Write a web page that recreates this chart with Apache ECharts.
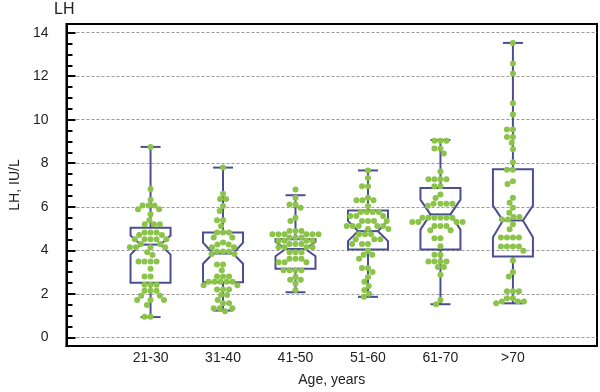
<!DOCTYPE html>
<html>
<head>
<meta charset="utf-8">
<script src="https://cdn.jsdelivr.net/npm/echarts@6/dist/echarts.min.js"></script>
<style>
html,body{margin:0;padding:0;background:#fff;}
#c{width:600px;height:392px;}
</style>
</head>
<body>
<div id="c"></div>
<script>
// ---- data ----
const categories = ['21-30', '31-40', '41-50', '51-60', '61-70', '>70'];
const yMajorTicks = [0, 2, 4, 6, 8, 10, 12, 14];
const yMinorTicks = [0.5,1,1.5,2.5,3,3.5,4.5,5,5.5,6.5,7,7.5,8.5,9,9.5,10.5,11,11.5,12.5,13,13.5];

// box statistics per group (whisker low, Q1, notch low, median, notch high, Q3, whisker high)
const whiskerLow  = [0.93, 1.23, 2.07, 1.86, 1.52, 1.56];
const q1          = [2.51, 2.53, 3.15, 4.03, 4.03, 3.71];
const notchLow    = [3.80, 3.38, 3.73, 4.42, 4.95, 4.60];
const median      = [4.26, 3.85, 4.06, 4.88, 5.65, 5.37];
const notchHigh   = [4.68, 4.35, 4.39, 5.35, 6.33, 6.05];
const q3          = [5.03, 4.82, 4.51, 5.83, 6.86, 7.72];
const whiskerHigh = [8.75, 7.80, 6.53, 7.67, 9.07, 13.53];

// individual observations per group
const lh21_30 = [8.75,6.82,6.32,6.06,6.06,6.06,5.88,5.88,5.65,5.38,5.2,5.2,5.2,4.82,4.82,4.82,4.7,4.7,
  4.51,4.51,4.51,4.51,4.51,4.29,4.29,4.14,4.14,4.14,4.14,3.91,3.78,3.48,3.48,3.48,3.48,3.15,2.8,2.8,
  2.42,2.42,2.42,2.14,2.14,2.14,1.91,1.91,1.71,1.71,1.71,1.49,0.94,0.94];
const lh31_40 = [7.8,6.6,6.36,6.36,6.03,5.8,5.38,5.38,5.12,4.82,4.82,4.82,4.59,4.59,4.36,4.26,4.26,
  4.14,4.14,3.94,3.94,3.94,3.83,3.83,3.35,3.35,3.08,2.8,2.8,2.8,2.55,2.55,2.55,2.55,2.55,2.39,2.39,
  2.2,2.2,2.2,1.94,1.94,1.71,1.56,1.56,1.33,1.33,1.33,1.2];
const lh41_50 = [6.79,6.41,6.1,6.1,5.95,5.5,5.35,4.89,4.89,4.89,4.74,4.74,4.74,4.74,4.74,4.74,
  4.59,4.59,4.59,4.44,4.44,4.44,4.44,4.29,4.29,4.29,4.14,4.14,4.14,4.14,3.91,3.91,3.91,3.61,3.61,3.61,
  3.45,3.45,3.45,3.08,3.08,3.08,3.08,2.77,2.64,2.64,2.47,2.17];
const lh51_60 = [7.67,7.32,6.94,6.94,6.41,6.3,6.3,6.3,6.03,5.76,5.76,5.76,5.76,5.57,5.57,5.57,
  5.35,5.35,5.35,5.35,5.12,5.12,5.12,5.12,5.12,4.98,4.98,4.74,4.74,4.74,4.51,4.51,4.51,4.29,4.29,4.29,
  3.98,3.79,3.79,3.61,3.18,3.18,3.0,2.77,2.55,2.36,2.17,2.0,1.86];
const lh61_70 = [9.03,9.03,9.03,8.68,8.68,8.45,7.62,7.27,7.27,7.27,7.27,6.94,6.94,6.56,6.4,
  6.14,6.14,6.14,6.14,6.05,5.5,5.5,5.5,5.5,5.5,5.5,5.3,5.3,5.3,5.3,5.12,5.12,5.12,4.92,4.92,
  4.55,4.55,4.18,3.79,3.79,3.48,3.48,3.48,3.48,3.23,3.23,2.88,1.71,1.52];
const lhOver70 = [13.53,12.59,12.12,10.76,10.24,9.55,9.55,9.21,9.21,8.94,8.64,8.05,7.7,7.7,7.17,7.05,
  6.41,6.18,5.95,5.73,5.53,5.53,5.42,5.42,5.2,4.97,4.59,4.59,4.59,4.59,4.17,4.17,4.17,4.17,3.98,
  3.53,3.0,2.8,2.12,2.12,2.12,1.79,1.79,1.64,1.64,1.64,1.56];
const groupValues = [lh21_30, lh31_40, lh41_50, lh51_60, lh61_70, lhOver70];

// ---- chart ----
const FONT = 'Liberation Sans, Arial, Helvetica, sans-serif';
const BOX_COLOR = '#4b4f8f';
const DOT_COLOR = '#8cc34b';

const boxData = categories.map((c, i) => [i + 1, whiskerLow[i], q1[i], notchLow[i], median[i], notchHigh[i], q3[i], whiskerHigh[i]]);

function renderBox(params, api) {
  const x = api.value(0);
  const pMin = api.coord([x, api.value(1)]);
  const pQ1 = api.coord([x, api.value(2)]);
  const pNL = api.coord([x, api.value(3)]);
  const pMed = api.coord([x, api.value(4)]);
  const pNH = api.coord([x, api.value(5)]);
  const pQ3 = api.coord([x, api.value(6)]);
  const pMax = api.coord([x, api.value(7)]);
  const cx = pMed[0];
  const hw = 20, ww = 10, cw = 10;
  const style = { stroke: BOX_COLOR, lineWidth: 2, fill: 'none' };
  return {
    type: 'group',
    children: [
      { type: 'line', shape: { x1: cx, y1: pQ3[1], x2: cx, y2: pMax[1] }, style },
      { type: 'line', shape: { x1: cx, y1: pQ1[1], x2: cx, y2: pMin[1] }, style },
      { type: 'line', shape: { x1: cx - cw, y1: pMax[1], x2: cx + cw, y2: pMax[1] }, style },
      { type: 'line', shape: { x1: cx - cw, y1: pMin[1], x2: cx + cw, y2: pMin[1] }, style },
      { type: 'polygon', shape: { points: [
          [cx - hw, pQ3[1]], [cx + hw, pQ3[1]], [cx + hw, pNH[1]], [cx + ww, pMed[1]],
          [cx + hw, pNL[1]], [cx + hw, pQ1[1]], [cx - hw, pQ1[1]], [cx - hw, pNL[1]],
          [cx - ww, pMed[1]], [cx - hw, pNH[1]] ] }, style },
      { type: 'line', shape: { x1: cx - ww, y1: pMed[1], x2: cx + ww, y2: pMed[1] }, style }
    ]
  };
}

const chart = echarts.init(document.getElementById('c'), null, { renderer: 'canvas' });
const option = {
  animation: false,
  backgroundColor: '#fff',
  textStyle: { fontFamily: FONT },
  title: { text: 'LH', left: 54, top: 2, padding: 0,
    textStyle: { fontFamily: FONT, fontSize: 16, fontWeight: 'normal', color: '#222' } },
  grid: { left: 56, right: 3, top: 24, bottom: 42, show: true, borderColor: '#000', borderWidth: 2, containLabel: false },
  xAxis: {
    type: 'value', min: -0.16, max: 7.16,
    name: 'Age, years', nameLocation: 'middle', nameGap: 27,
    nameTextStyle: { fontFamily: FONT, fontSize: 14, color: '#222' },
    axisLine: { show: true, onZero: false, lineStyle: { color: '#000', width: 2 } },
    axisTick: { show: false },
    splitLine: { show: false },
    axisLabel: { customValues: [1, 2, 3, 4, 5, 6], margin: 5,
      formatter: v => categories[Math.round(v) - 1] || '',
      fontFamily: FONT, fontSize: 14, color: '#222' }
  },
  yAxis: [{
    type: 'value', min: -0.4, max: 14.4, splitNumber: 7,
    name: 'LH, IU/L', nameLocation: 'middle', nameGap: 35, nameRotate: 90,
    nameTextStyle: { fontFamily: FONT, fontSize: 14, color: '#222' },
    axisLine: { show: true, onZero: false, lineStyle: { color: '#000', width: 2 } },
    axisTick: { show: true, inside: true, length: 9, customValues: yMajorTicks, lineStyle: { color: '#000', width: 2 } },
    axisLabel: { customValues: yMajorTicks, margin: 18, fontFamily: FONT, fontSize: 14, color: '#222' },
    splitLine: { show: true, lineStyle: { color: '#999', width: 1, type: [3, 2] } }
  }, {
    type: 'value', min: -0.4, max: 14.4, position: 'left', offset: 0,
    axisLine: { show: false, onZero: false },
    axisTick: { show: true, inside: true, length: 6, customValues: yMinorTicks, lineStyle: { color: '#000', width: 2 } },
    axisLabel: { show: false },
    splitLine: { show: false }
  }],
  series: [{
    id: 'boxes', type: 'custom', renderItem: renderBox, data: boxData,
    encode: { x: 0, y: [1, 2, 3, 4, 5, 6, 7] }, z: 2, silent: true
  }, {
    id: 'pts', type: 'scatter', data: [], symbol: 'circle', symbolSize: 6,
    itemStyle: { color: DOT_COLOR, opacity: 1 }, z: 3, silent: true
  }]
};
chart.setOption(option);

// beeswarm layout (pixel space) so dots do not overlap
const D = 6;
const swarmData = [];
groupValues.forEach((vals, gi) => {
  const cx = gi + 1;
  const x0 = chart.convertToPixel({ gridIndex: 0 }, [cx, 0])[0];
  const unit = chart.convertToPixel({ gridIndex: 0 }, [cx + 1, 0])[0] - x0;
  const pts = vals.map(v => ({ v, y: chart.convertToPixel({ gridIndex: 0 }, [cx, v])[1] }))
                  .sort((a, b) => a.y - b.y);
  const placed = [];
  pts.forEach(p => {
    const cands = [0];
    placed.forEach(q => {
      const dy = Math.abs(q.y - p.y);
      if (dy < D) {
        const h = Math.sqrt(D * D - dy * dy);
        cands.push(q.x + h, q.x - h);
      }
    });
    cands.sort((a, b) => Math.abs(a) - Math.abs(b) || a - b);
    let chosen = cands[0];
    for (const c of cands) {
      let ok = true;
      for (const q of placed) {
        const dx = c - q.x, dy = p.y - q.y;
        if (dx * dx + dy * dy < D * D - 1e-6) { ok = false; break; }
      }
      if (ok) { chosen = c; break; }
    }
    placed.push({ x: chosen, y: p.y, v: p.v });
  });
  placed.forEach(q => swarmData.push([cx + q.x / unit, q.v]));
});
chart.setOption({ series: [{ id: 'pts', data: swarmData }] });
</script>
</body>
</html>
